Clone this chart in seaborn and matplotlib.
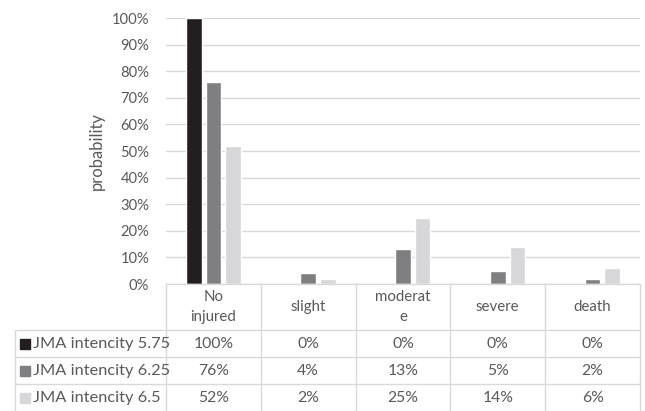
import numpy as np
import pandas as pd
import matplotlib
matplotlib.use("Agg")
import matplotlib.pyplot as plt
import seaborn as sns

# Injury categories and probability (%) per JMA seismic intensity
categories = ["No\ninjured", "slight", "moderat\ne", "severe", "death"]
series_names = ["JMA intencity 5.75", "JMA intencity 6.25", "JMA intencity 6.5"]
vals_575 = [100, 0, 0, 0, 0]
vals_625 = [76, 4, 13, 5, 2]
vals_650 = [52, 2, 25, 14, 6]
yticks = [0, 10, 20, 30, 40, 50, 60, 70, 80, 90, 100]

colors = ["#231f20", "#7f7f81", "#d7d7d9"]
text_color = "#595959"
grid_color = "#d9d9d9"

df = pd.DataFrame({
    "category": categories * 3,
    "series": [s for s in series_names for _ in categories],
    "value": vals_575 + vals_625 + vals_650,
})

sns.set_theme(style="white")
plt.rcParams["font.family"] = ["Lato", "DejaVu Sans"]

W, H = 645, 411
fig = plt.figure(figsize=(W / 100, H / 100), dpi=100)
x0, x1, y_top, y_bot = 166, 640, 18, 284
ax = fig.add_axes([x0 / W, 1 - y_bot / H, (x1 - x0) / W, (y_bot - y_top) / H])

sns.barplot(data=df, x="category", y="value", hue="series", palette=colors,
            order=categories, hue_order=series_names, width=0.62, gap=0.2,
            saturation=1, legend=False, ax=ax)

ax.set_ylim(0, 100)
ax.set_xlim(-0.5, len(categories) - 0.5)
ax.set_yticks(yticks)
ax.set_yticklabels([f"{t}%" for t in yticks], color=text_color, fontsize=10.6)
ax.set_xticks([])
ax.set_xlabel("")
ax.set_ylabel("probability", color=text_color, fontsize=12, labelpad=5)
ax.tick_params(axis="y", length=0, pad=12)
ax.yaxis.grid(True, color=grid_color, linewidth=1.0)
ax.set_axisbelow(True)
for side in ["top", "right", "left"]:
    ax.spines[side].set_visible(False)
ax.spines["bottom"].set_color(grid_color)
ax.spines["bottom"].set_linewidth(1.0)

# Data table underneath the plot, drawn in pixel coordinates of the figure
def fx(px):
    return px / W

def fy(py):
    return 1 - py / H

line_kw = dict(color=grid_color, linewidth=1.0, transform=fig.transFigure)
col_w = (x1 - x0) / len(categories)
col_edges = [x0 + i * col_w for i in range(len(categories) + 1)]
row_edges = [y_bot, 330, 357, 384, 411]
label_left = 15

# vertical lines of the category columns
for cx in col_edges:
    fig.add_artist(plt.Line2D([fx(cx), fx(cx)], [fy(y_bot), fy(H)], **line_kw))
# left border of the series label column
fig.add_artist(plt.Line2D([fx(label_left), fx(label_left)], [fy(row_edges[1]), fy(H)], **line_kw))
# horizontal row lines
for ry in row_edges[1:4]:
    fig.add_artist(plt.Line2D([fx(label_left), fx(x1)], [fy(ry), fy(ry)], **line_kw))

# header row: category names
for i, cat in enumerate(categories):
    cx = col_edges[i] + col_w / 2
    cy = (row_edges[0] + row_edges[1]) / 2
    fig.text(fx(cx), fy(cy), cat, ha="center", va="center", color=text_color,
             fontsize=10.8, linespacing=1.6)

# value rows
all_vals = [vals_575, vals_625, vals_650]
for r, (name, vals, col) in enumerate(zip(series_names, all_vals, colors)):
    cy = (row_edges[r + 1] + row_edges[r + 2]) / 2
    fig.add_artist(plt.Rectangle((fx(20), fy(cy + 5)), 10 / W, 10 / H,
                                 color=col, transform=fig.transFigure))
    fig.text(fx(33), fy(cy), name, ha="left", va="center", color=text_color,
             fontsize=11.8)
    for i, v in enumerate(vals):
        cx = col_edges[i] + col_w / 2
        fig.text(fx(cx), fy(cy), f"{v}%", ha="center", va="center",
                 color=text_color, fontsize=11.3)

fig.savefig("out.png", dpi=100)
